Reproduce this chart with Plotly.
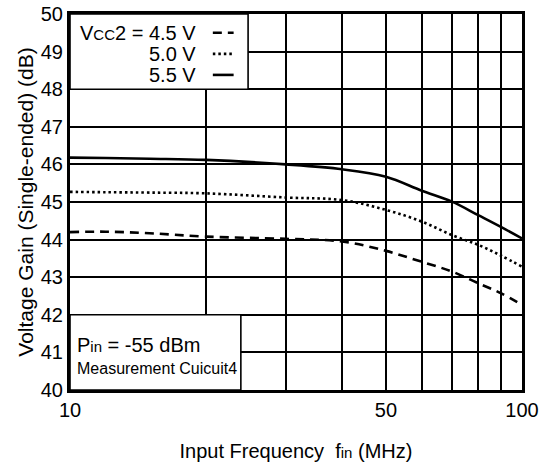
import plotly.graph_objects as go

# Input frequency (MHz) and voltage gain (dB) for each supply voltage
freq_mhz = [10, 12, 15, 20, 30, 40, 50, 60, 70, 80, 90, 100]
gain_45v = [44.20, 44.21, 44.17, 44.08, 44.02, 43.95, 43.70, 43.41, 43.15, 42.84, 42.57, 42.26]
gain_50v = [45.27, 45.26, 45.25, 45.23, 45.12, 45.05, 44.79, 44.48, 44.12, 43.86, 43.57, 43.28]
gain_55v = [46.18, 46.17, 46.15, 46.12, 46.00, 45.87, 45.67, 45.30, 45.01, 44.65, 44.33, 44.03]

x_tick_vals = [10, 20, 30, 40, 50, 60, 70, 80, 90, 100]
x_tick_text = ["10", "", "", "", "50", "", "", "", "", "100"]
y_tick_vals = [40, 41, 42, 43, 44, 45, 46, 47, 48, 49, 50]

FONT = "Liberation Sans, Arial, Helvetica, sans-serif"
LW = 2.6

fig = go.Figure()
fig.add_trace(go.Scatter(x=freq_mhz, y=gain_45v, mode="lines", line_shape="spline",
                         line=dict(color="black", width=LW, dash="9px,6px"), showlegend=False))
fig.add_trace(go.Scatter(x=freq_mhz, y=gain_50v, mode="lines", line_shape="spline",
                         line=dict(color="black", width=LW, dash="2.5px,3px"), showlegend=False))
fig.add_trace(go.Scatter(x=freq_mhz, y=gain_55v, mode="lines", line_shape="spline",
                         line=dict(color="black", width=LW), showlegend=False))

# Boxed key (top left) and measurement note (bottom left)
fig.add_shape(type="rect", xref="paper", yref="y", x0=0, x1=0.394, y0=48, y1=50,
              fillcolor="white", line=dict(color="black", width=1.6), layer="above")
fig.add_shape(type="rect", xref="paper", yref="y", x0=0, x1=0.378, y0=40, y1=42,
              fillcolor="white", line=dict(color="black", width=1.6), layer="above")

key_rows = [
    ("V<span style='font-size:15px'>CC</span>2 = 4.5 V", 49.50, "9px,6px"),
    ("5.0 V", 48.94, "2.5px,3px"),
    ("5.5 V", 48.38, "solid"),
]
for label, yv, dash in key_rows:
    fig.add_annotation(x=0.283, y=yv, xref="paper", yref="y", text=label, showarrow=False,
                       xanchor="right", yanchor="middle", font=dict(family=FONT, size=20, color="black"))
    fig.add_shape(type="line", xref="paper", yref="y", x0=0.316, x1=0.362, y0=yv, y1=yv,
                  line=dict(color="black", width=LW, dash=dash), layer="above")

fig.add_annotation(x=0.011, y=41.2, xref="paper", yref="y",
                   text="P<span style='font-size:15px'>in</span> = -55 dBm", showarrow=False,
                   xanchor="left", yanchor="middle", font=dict(family=FONT, size=20, color="black"))
fig.add_annotation(x=0.011, y=40.56, xref="paper", yref="y",
                   text="Measurement Cuicuit4", showarrow=False,
                   xanchor="left", yanchor="middle", font=dict(family=FONT, size=16, color="black"))

fig.update_xaxes(type="log", range=[1, 2], tickvals=x_tick_vals, ticktext=x_tick_text,
                 showgrid=True, gridcolor="black", gridwidth=1.5,
                 showline=True, linecolor="black", linewidth=3, mirror=True,
                 ticks="", tickfont=dict(family=FONT, size=20, color="black"),
                 title=dict(text="Input Frequency  f<span style='font-size:15px'>in</span> (MHz)",
                            font=dict(family=FONT, size=20, color="black"), standoff=24),
                 zeroline=False, automargin=False)
fig.update_yaxes(range=[40, 50], tickvals=y_tick_vals,
                 showgrid=True, gridcolor="black", gridwidth=1.5,
                 showline=True, linecolor="black", linewidth=3, mirror=True,
                 ticks="", tickfont=dict(family=FONT, size=20, color="black"),
                 title=dict(text="Voltage Gain (Single-ended) (dB)",
                            font=dict(family=FONT, size=21, color="black"), standoff=2),
                 zeroline=False, automargin=False)

fig.update_layout(width=540, height=470, margin=dict(l=70, r=18, t=14, b=80),
                  paper_bgcolor="white", plot_bgcolor="white", showlegend=False)

fig.write_html("out.html")
